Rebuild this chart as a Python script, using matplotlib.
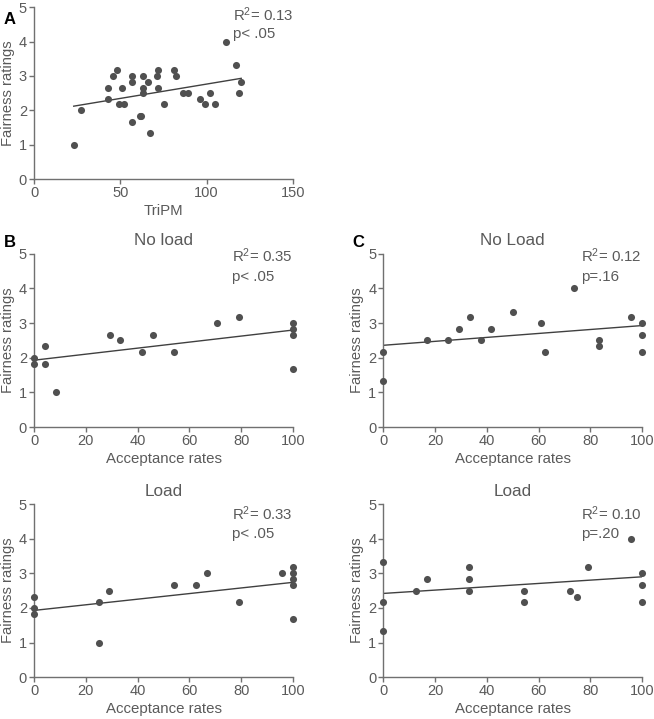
import numpy as np
import matplotlib
matplotlib.use('Agg')
import matplotlib.pyplot as plt

plt.rcParams['font.family'] = ['Liberation Sans', 'DejaVu Sans']
plt.rcParams['mathtext.fontset'] = 'custom'
plt.rcParams['mathtext.rm'] = 'Liberation Sans'
plt.rcParams['mathtext.it'] = 'Liberation Sans'
plt.rcParams['mathtext.default'] = 'regular'

GRAY = '#5a5a5a'
DOT = '#505050'

# Panel A: TriPM vs fairness
a_x = [23, 27, 43, 43, 46, 48, 49, 51, 52.4, 57, 57, 57, 61.4, 62, 63, 63, 63, 66, 67,
       71, 72, 72, 75, 81, 82, 86.5, 89, 96, 99, 102, 105, 111, 117, 119, 120]
a_y = [1.0, 2.0, 2.66, 2.32, 3.0, 3.16, 2.17, 2.66, 2.17, 3.0, 2.83, 1.66, 1.83, 1.83, 3.0, 2.66, 2.5, 2.83, 1.33,
       3.0, 3.16, 2.66, 2.17, 3.16, 3.0, 2.5, 2.5, 2.33, 2.17, 2.5, 2.17, 4.0, 3.33, 2.5, 2.83]
a_line = ([23, 120], [2.12, 2.93])

# Panel B, no load
bn_x = [0, 0, 4.3, 4.3, 8.4, 29.3, 33.2, 41.8, 45.8, 54, 70.7, 79, 100, 100, 100, 100]
bn_y = [2.0, 1.83, 2.33, 1.83, 1.0, 2.67, 2.5, 2.17, 2.67, 2.17, 3.0, 3.17, 3.0, 2.83, 2.67, 1.67]
bn_line = ([0, 100], [1.93, 2.80])

# Panel C, no load
cn_x = [0, 0, 16.9, 25.1, 29.1, 33.5, 37.6, 41.8, 50, 61, 62.5, 73.6, 83.3, 83.3, 95.8, 100, 100, 100]
cn_y = [2.17, 1.33, 2.5, 2.5, 2.83, 3.17, 2.5, 2.83, 3.33, 3.0, 2.17, 4.0, 2.5, 2.33, 3.17, 3.0, 2.67, 2.17]
cn_line = ([0, 100], [2.36, 2.93])

# Panel B, load
bl_x = [0, 0, 0, 25, 25, 29, 54, 62.5, 66.8, 79, 95.7, 100, 100, 100, 100, 100]
bl_y = [2.33, 2.0, 1.83, 2.17, 1.0, 2.5, 2.67, 2.67, 3.0, 2.17, 3.0, 3.17, 3.0, 2.83, 2.67, 1.67]
bl_line = ([0, 100], [1.93, 2.74])

# Panel C, load
cl_x = [0, 0, 0, 12.6, 16.9, 33.2, 33.2, 33.2, 54.2, 54.2, 72, 75, 79, 95.8, 100, 100, 100]
cl_y = [3.33, 2.17, 1.33, 2.5, 2.83, 3.17, 2.83, 2.5, 2.5, 2.17, 2.5, 2.33, 3.17, 4.0, 3.0, 2.67, 2.17]
cl_line = ([0, 100], [2.42, 2.90])

stats = [('R$^2$= 0.13', 'p< .05'), ('R$^2$= 0.35', 'p< .05'), ('R$^2$= 0.12', 'p=.16'),
         ('R$^2$= 0.33', 'p< .05'), ('R$^2$= 0.10', 'p=.20')]

fig = plt.figure(figsize=(6.54, 7.19), dpi=100)

def panel(rect, xs, ys, line, stat, xmax, xticks, xlabel, title=None, txt_x=76.5, txt_y=(4.75, 4.22)):
    ax = fig.add_axes(rect)
    ax.scatter(xs, ys, s=26, color=DOT, zorder=3, clip_on=False, linewidths=0)
    ax.plot(line[0], line[1], color='#404040', lw=1)
    ax.set_xlim(0, xmax)
    ax.set_ylim(0, 5)
    ax.set_xticks(xticks)
    ax.set_yticks([0, 1, 2, 3, 4, 5])
    for s in ['top', 'right']:
        ax.spines[s].set_visible(False)
    for s in ['left', 'bottom']:
        ax.spines[s].set_color('#707070')
        ax.spines[s].set_linewidth(1.0)
    ax.tick_params(colors='#707070', labelcolor=GRAY, labelsize=10.5, length=3.5, width=1, pad=1.5)
    ax.set_xlabel(xlabel, fontsize=10.8, color=GRAY, labelpad=3)
    ax.set_ylabel('Fairness ratings', fontsize=10.6, color=GRAY, labelpad=3)
    if title:
        ax.set_title(title, fontsize=12.3, color=GRAY, pad=6)
    ax.text(txt_x, txt_y[0], stat[0], fontsize=10.8, color=GRAY, va='baseline')
    ax.text(txt_x, txt_y[1], stat[1], fontsize=10.8, color=GRAY, va='baseline')
    return ax

panel([0.052, 0.751, 0.396, 0.239], a_x, a_y, a_line, stats[0], 150, [0, 50, 100, 150], 'TriPM',
      txt_x=115, txt_y=(4.6, 4.1))
panel([0.052, 0.406, 0.396, 0.241], bn_x, bn_y, bn_line, stats[1], 100, [0, 20, 40, 60, 80, 100],
      'Acceptance rates', 'No load')
panel([0.586, 0.406, 0.396, 0.241], cn_x, cn_y, cn_line, stats[2], 100, [0, 20, 40, 60, 80, 100],
      'Acceptance rates', 'No Load', txt_x=76.2)
panel([0.052, 0.058, 0.396, 0.241], bl_x, bl_y, bl_line, stats[3], 100, [0, 20, 40, 60, 80, 100],
      'Acceptance rates', 'Load', txt_y=(4.55, 4.02))
panel([0.586, 0.058, 0.396, 0.241], cl_x, cl_y, cl_line, stats[4], 100, [0, 20, 40, 60, 80, 100],
      'Acceptance rates', 'Load', txt_x=76.2, txt_y=(4.55, 4.02))

fig.text(0.006, 0.984, 'A', fontsize=12, fontweight='bold', va='top')
fig.text(0.006, 0.673, 'B', fontsize=12, fontweight='bold', va='top')
fig.text(0.539, 0.673, 'C', fontsize=12, fontweight='bold', va='top')

fig.savefig('out.png', dpi=100)
